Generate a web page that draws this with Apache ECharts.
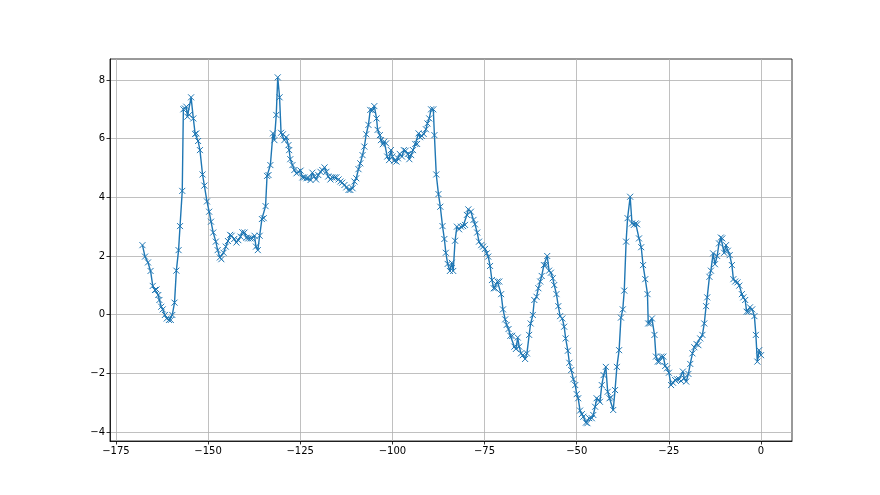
<!DOCTYPE html>
<html>
<head>
<meta charset="utf-8">
<script src="https://cdn.jsdelivr.net/npm/echarts@6/dist/echarts.min.js"></script>
<style>html,body{margin:0;padding:0;background:#fff}#c{width:880px;height:495px}</style>
</head>
<body>
<div id="c"></div>
<script>
const xTicks = [-175, -150, -125, -100, -75, -50, -25, 0];
const yTicks = [-4, -2, 0, 2, 4, 6, 8];

const xs = [
-167.8,-167.1,-166.3,-165.6,-165.0,-164.4,-164.0,-163.5,-163.2,-162.7,-162.3,-161.7,-161.2,-160.6,-160.1,-159.7,-159.1,-158.6,-158.0,-157.6,
-157.0,-156.7,-156.3,-155.9,-155.6,-155.1,-154.6,-154.0,-153.5,-153.2,-152.7,-152.2,-151.5,-151.0,-150.3,-149.7,-149.2,-148.6,-147.9,-147.4,
-146.8,-146.4,-145.8,-145.2,-144.6,-144.0,-143.6,-142.9,-142.3,-141.8,-141.2,-140.7,-140.1,-139.6,-139.1,-138.5,-138.0,-137.4,-137.0,-136.5,
-136.0,-135.4,-134.9,-134.4,-134.0,-133.6,-133.1,-132.4,-132.0,-131.5,-131.1,-130.6,-130.2,-129.7,-129.3,-128.8,-128.2,-128.0,-127.7,-127.1,
-126.6,-126.0,-125.5,-124.9,-124.4,-123.9,-123.3,-122.8,-122.2,-121.7,-121.2,-120.7,-120.1,-119.5,-119.0,-118.4,-117.9,-117.4,-116.8,-116.3,
-115.7,-115.2,-114.6,-114.1,-113.6,-113.0,-112.5,-111.9,-111.4,-110.8,-110.3,-109.8,-109.2,-108.7,-108.1,-107.6,-107.1,-106.5,-106.0,-105.4,
-104.9,-104.3,-104.0,-103.4,-103.1,-102.6,-102.2,-101.7,-101.4,-100.9,-100.4,-100.0,-99.5,-98.9,-98.5,-98.0,-97.4,-96.9,-96.4,-95.8,
-95.4,-94.9,-94.4,-93.8,-93.3,-92.9,-92.5,-92.0,-91.5,-90.9,-90.5,-90.0,-89.5,-88.9,-88.6,-88.1,-87.5,-87.0,-86.4,-85.9,
-85.5,-85.0,-84.4,-83.9,-83.5,-83.0,-82.5,-81.9,-81.4,-80.8,-80.3,-79.8,-79.4,-78.7,-78.0,-77.6,-77.0,-76.5,-75.9,-75.4,
-74.9,-74.4,-74.0,-73.5,-73.0,-72.5,-72.1,-71.5,-71.0,-70.5,-70.0,-69.4,-69.0,-68.5,-68.0,-67.5,-66.9,-66.5,-66.0,-65.6,
-65.1,-64.6,-64.0,-63.5,-62.9,-62.5,-61.9,-61.5,-60.9,-60.4,-59.9,-59.5,-58.9,-58.4,-58.0,-57.5,-57.0,-56.5,-56.1,-55.5,
-55.0,-54.5,-53.9,-53.4,-53.0,-52.4,-52.0,-51.5,-50.9,-50.4,-50.0,-49.6,-49.1,-48.6,-48.2,-47.5,-47.1,-46.6,-45.9,-45.5,
-45.0,-44.6,-44.1,-43.7,-43.2,-42.7,-42.1,-41.6,-41.1,-40.7,-40.1,-39.6,-39.1,-38.5,-38.0,-37.5,-37.1,-36.6,-36.2,-35.5,
-35.0,-34.5,-34.0,-33.6,-33.1,-32.5,-32.0,-31.4,-30.8,-30.6,-30.1,-29.6,-28.9,-28.5,-28.0,-27.6,-27.1,-26.5,-26.0,-25.5,
-25.0,-24.4,-23.9,-23.3,-22.8,-22.2,-21.7,-21.2,-20.8,-20.3,-19.7,-19.2,-18.6,-18.1,-17.5,-17.0,-16.5,-15.9,-15.4,-14.9,
-14.6,-14.0,-13.6,-13.0,-12.5,-11.9,-11.4,-10.9,-10.5,-10.0,-9.5,-9.0,-8.5,-7.9,-7.5,-7.0,-6.4,-5.9,-5.2,-4.8,
-4.3,-3.9,-3.4,-3.0,-2.4,-1.8,-1.4,-1.0,-0.5,0.0
];

const ys = [
2.37,1.98,1.78,1.49,0.98,0.84,0.86,0.67,0.50,0.27,0.18,-0.01,-0.13,-0.18,-0.18,-0.01,0.41,1.50,2.20,3.02,
4.22,7.00,7.03,7.09,6.75,6.81,7.41,6.69,6.16,6.18,5.92,5.61,4.78,4.40,3.86,3.51,3.17,2.80,2.49,2.20,
1.95,1.89,2.11,2.32,2.51,2.72,2.69,2.58,2.46,2.54,2.66,2.81,2.80,2.62,2.60,2.60,2.60,2.69,2.32,2.20,
2.69,3.26,3.29,3.70,4.73,4.76,5.10,6.18,5.95,6.81,8.09,7.41,6.20,6.15,5.95,6.05,5.78,5.61,5.30,5.10,
4.93,4.82,4.87,4.91,4.68,4.68,4.65,4.66,4.59,4.84,4.71,4.61,4.76,4.87,4.93,5.02,4.87,4.71,4.61,4.68,
4.68,4.68,4.61,4.54,4.50,4.42,4.34,4.25,4.25,4.31,4.54,4.65,4.96,5.16,5.44,5.73,6.15,6.47,6.98,6.96,
7.11,6.69,6.30,6.12,5.95,5.81,5.90,5.84,5.39,5.27,5.61,5.39,5.25,5.22,5.33,5.48,5.39,5.61,5.59,5.48,
5.30,5.44,5.61,5.82,5.82,6.18,6.05,6.09,6.16,6.32,6.52,6.69,7.00,7.00,6.12,4.78,4.11,3.68,3.02,2.58,
2.11,1.73,1.49,1.77,1.49,2.52,3.00,2.91,3.00,3.02,3.06,3.40,3.59,3.51,3.23,3.08,2.80,2.49,2.37,2.32,
2.24,2.09,1.98,1.66,1.18,0.90,0.90,1.13,1.13,0.70,0.18,-0.16,-0.35,-0.49,-0.72,-0.72,-1.09,-1.17,-0.78,-1.09,
-1.32,-1.38,-1.51,-1.32,-0.69,-0.30,-0.01,0.50,0.61,0.90,1.13,1.32,1.69,1.69,2.00,1.50,1.43,1.24,1.01,0.70,
0.29,-0.05,-0.13,-0.41,-0.81,-1.23,-1.64,-1.89,-2.20,-2.40,-2.71,-2.85,-3.27,-3.39,-3.48,-3.68,-3.70,-3.53,-3.53,-3.42,
-3.14,-2.85,-2.91,-2.97,-2.40,-2.06,-1.78,-2.63,-2.85,-2.82,-3.25,-2.57,-1.78,-1.21,-0.10,0.18,0.82,2.49,3.29,4.02,
3.11,3.06,3.11,3.08,2.60,2.30,1.69,1.21,0.70,-0.30,-0.30,-0.13,-0.69,-1.43,-1.60,-1.60,-1.43,-1.43,-1.75,-1.83,
-1.98,-2.40,-2.32,-2.23,-2.20,-2.20,-2.26,-1.94,-2.17,-2.28,-2.02,-1.68,-1.32,-1.11,-1.00,-1.04,-0.81,-0.69,-0.30,0.29,
0.59,1.29,1.50,2.09,1.72,2.00,2.43,2.63,2.60,2.11,2.37,2.18,2.03,1.69,1.21,1.13,1.10,0.99,0.70,0.59,
0.50,0.10,0.10,0.25,0.18,-0.05,-0.69,-1.60,-1.21,-1.38
];

const data = xs.map((x, i) => [x, ys[i]]);
const fmt = v => String(v).replace('-', '\u2212');
const font = { fontFamily: 'DejaVu Sans', fontSize: 10, color: '#000' };

const chart = echarts.init(document.getElementById('c'), null, { renderer: 'canvas' });
chart.setOption({
  animation: false,
  backgroundColor: '#fff',
  grid: { left: 110, right: 88, top: 59, bottom: 54, show: true, borderColor: '#000', borderWidth: 0.8, backgroundColor: 'transparent' },
  xAxis: {
    type: 'value', min: -176.6, max: 8.4,
    axisLine: { show: true, onZero: false, lineStyle: { color: '#000', width: 0.8 } },
    axisTick: { show: true, length: 3.5, customValues: xTicks, lineStyle: { color: '#000', width: 0.8 } },
    axisLabel: Object.assign({ customValues: xTicks, margin: 5, formatter: fmt }, font),
    splitLine: { show: true, lineStyle: { color: '#b0b0b0', width: 0.8 } }
  },
  yAxis: {
    type: 'value', min: -4.307, max: 8.716,
    axisLine: { show: true, onZero: false, lineStyle: { color: '#000', width: 0.8 } },
    axisTick: { show: true, length: 3.5, customValues: yTicks, lineStyle: { color: '#000', width: 0.8 } },
    axisLabel: Object.assign({ customValues: yTicks, margin: 5, formatter: fmt }, font),
    splitLine: { show: true, lineStyle: { color: '#b0b0b0', width: 0.8 } }
  },
  series: [{
    type: 'line',
    data: data,
    showSymbol: true,
    showAllSymbol: true,
    symbol: 'path://M0,0L10,10M10,0L0,10',
    symbolSize: 6,
    itemStyle: { color: '#1f77b4', borderColor: '#1f77b4', borderWidth: 1 },
    lineStyle: { color: '#1f77b4', width: 1.4 },
    emphasis: { disabled: true }
  }]
});
</script>
</body>
</html>
